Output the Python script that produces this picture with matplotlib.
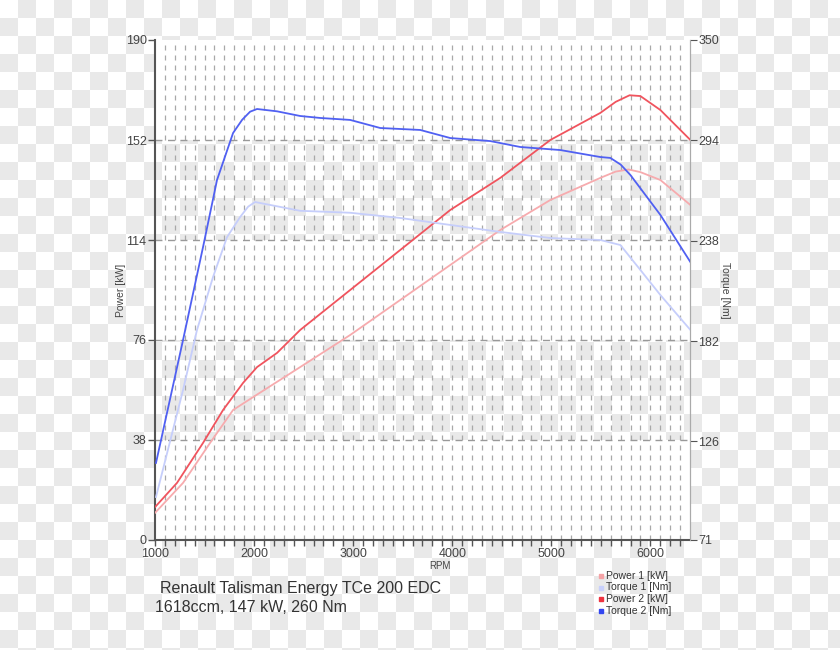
import numpy as np
import matplotlib
matplotlib.use('Agg')
import matplotlib.pyplot as plt
from matplotlib.lines import Line2D

plt.rcParams['font.family'] = ['Liberation Sans', 'DejaVu Sans']

# values
rpm_t2 = [1010, 1283, 1485, 1626, 1788, 1880, 1960, 2030, 2232, 2465, 2667, 2970, 3273, 3677,
          3980, 4384, 4687, 5091, 5495, 5596, 5700, 5798, 6101, 6404]
torque2 = [114, 182.6, 234.5, 271.9, 298.1, 305.5, 310, 311.5, 310.2, 307.6, 306.5, 305.4,
           300.9, 299.8, 295.3, 293.6, 290.3, 288.6, 284.7, 284.2, 280.5, 274.7, 252.4, 226.1]

rpm_t1 = [1010, 1283, 1424, 1586, 1727, 1859, 1940, 2010, 2465, 2970, 3475, 3980, 4485, 4990,
          5495, 5697, 5899, 6101, 6404]
torque1 = [95, 154.7, 188.2, 217.8, 240, 251.2, 257, 259.6, 254.7, 253.6, 250.7, 246.8, 242.9,
           239.5, 238.4, 235.6, 221.7, 207.7, 188.2]

rpm_p2 = [1000, 1222, 1485, 1687, 1889, 2030, 2232, 2465, 2970, 3475, 3980, 4485, 4990, 5495,
          5650, 5790, 5899, 6101, 6404]
power2 = [12.5, 21.7, 36.9, 49.4, 59.7, 65.7, 71.1, 79.8, 95, 110.2, 125.4, 137.6, 152, 162.3,
          166.5, 169, 168.7, 163.4, 152]

rpm_p1 = [1000, 1283, 1556, 1788, 1990, 2465, 2970, 3475, 3980, 4485, 4990, 5495, 5650, 5780,
          5899, 6101, 6404]
power1 = [10.3, 21.7, 36.9, 49.4, 54.3, 65.7, 77.9, 91.2, 104.5, 117.8, 129.2, 137.6, 140,
          140.8, 139.8, 136.8, 127.3]

kw_ticks = [0, 38, 76, 114, 152, 190]
nm_ticks = [71, 126, 182, 238, 294, 350]
rpm_ticks = [1000, 2000, 3000, 4000, 5000, 6000]

legend_names = ['Power 1 [kW]', 'Torque 1 [Nm]', 'Power 2 [kW]', 'Torque 2 [Nm]']
legend_colors = ['#f5a3a6', '#c8d0fc', '#ee3340', '#3346f0']

c_p1, c_t1, c_p2, c_t2 = '#f7abae', '#c6cefb', '#f0545e', '#5060f2'

W, H = 840, 650
fig = plt.figure(figsize=(W / 100, H / 100), dpi=100)

# checkerboard background (transparent png look)
bg = fig.add_axes([0, 0, 1, 1], zorder=-10)
cell = 18
ny, nx = H // cell + 1, W // cell + 1
yy, xx = np.mgrid[0:ny, 0:nx]
checker = ((xx + yy) % 2).astype(float)
bg.imshow(checker, cmap=matplotlib.colors.ListedColormap(['#ffffff', '#e9e9e9']),
          extent=[0, nx * cell, ny * cell, 0], interpolation='nearest')
bg.set_xlim(0, W)
bg.set_ylim(H, 0)
bg.axis('off')

ax = fig.add_axes([155 / W, 110 / H, 535 / W, 500 / H])
ax.set_facecolor('none')
ax.set_xlim(1000, 6400)
ax.set_ylim(0, 190)

for lo, hi in [(0, 38), (76, 114), (152, 190)]:
    ax.axhspan(lo, hi, color='white', zorder=0, lw=0)

for r in range(1100, 6400, 100):
    ax.axvline(r, color='#a8a8a8', lw=0.9, ls=(0, (4, 4)), zorder=1)
for v in kw_ticks[1:-1]:
    ax.axhline(v, color='#999999', lw=1.0, ls=(0, (5, 4)), zorder=1)

ax.set_xticks(rpm_ticks)
ax.set_xticks(range(1000, 6400, 100), minor=True)
ax.set_yticks(kw_ticks)
ax.tick_params(axis='both', colors='#555555', labelcolor='#444444', labelsize=9,
               length=4, width=1)
ax.tick_params(axis='x', which='minor', length=4, width=1, colors='#555555')
ax.tick_params(axis='y', pad=1, length=5)
ax.tick_params(axis='x', pad=2)

for s in ['left', 'bottom']:
    ax.spines[s].set_color('#555555')
    ax.spines[s].set_linewidth(1.5)
ax.spines['top'].set_visible(False)
ax.spines['right'].set_color('#aaaaaa')
ax.spines['right'].set_linewidth(0.8)

ax2 = ax.twinx()
ax2.set_ylim(71, 350)
ax2.set_yticks(nm_ticks)
ax2.tick_params(axis='y', colors='#555555', labelcolor='#444444', labelsize=9, length=5,
                pad=1)
for s in ['left', 'bottom', 'top']:
    ax2.spines[s].set_visible(False)
ax2.spines['right'].set_color('#aaaaaa')
ax2.spines['right'].set_linewidth(0.8)

ax.plot(rpm_p1, power1, color=c_p1, lw=1.3, zorder=3)
ax.plot(rpm_p2, power2, color=c_p2, lw=1.3, zorder=4)
ax2.plot(rpm_t1, torque1, color=c_t1, lw=1.3, zorder=3)
ax2.plot(rpm_t2, torque2, color=c_t2, lw=1.3, zorder=4)

fig.text(121 / W, 1 - 290 / H, 'Power [kW]', fontsize=7.5, color='#444444', rotation=90,
         ha='center', va='center')
fig.text(725 / W, 1 - 290 / H, 'Torque [Nm]', fontsize=7.5, color='#444444', rotation=270,
         ha='center', va='center')
fig.text(440 / W, 1 - 566 / H, 'RPM', fontsize=7, color='#444444', ha='center', va='center')

fig.text(160 / W, 1 - 589 / H, 'Renault Talisman Energy TCe 200 EDC', fontsize=11.5,
         color='#333333', va='center')
fig.text(155 / W, 1 - 608 / H, '1618ccm, 147 kW, 260 Nm', fontsize=11.5,
         color='#333333', va='center')

for i, (name, col) in enumerate(zip(legend_names, legend_colors)):
    yc = 1 - (576 + i * 11.5) / H
    fig.add_artist(Line2D([601 / W], [yc], marker='s', markersize=3.5, color=col,
                          transform=fig.transFigure, ls='none'))
    fig.text(606 / W, yc, name, fontsize=7.5, color='#333333', va='center')

fig.savefig('out.png', dpi=100)
